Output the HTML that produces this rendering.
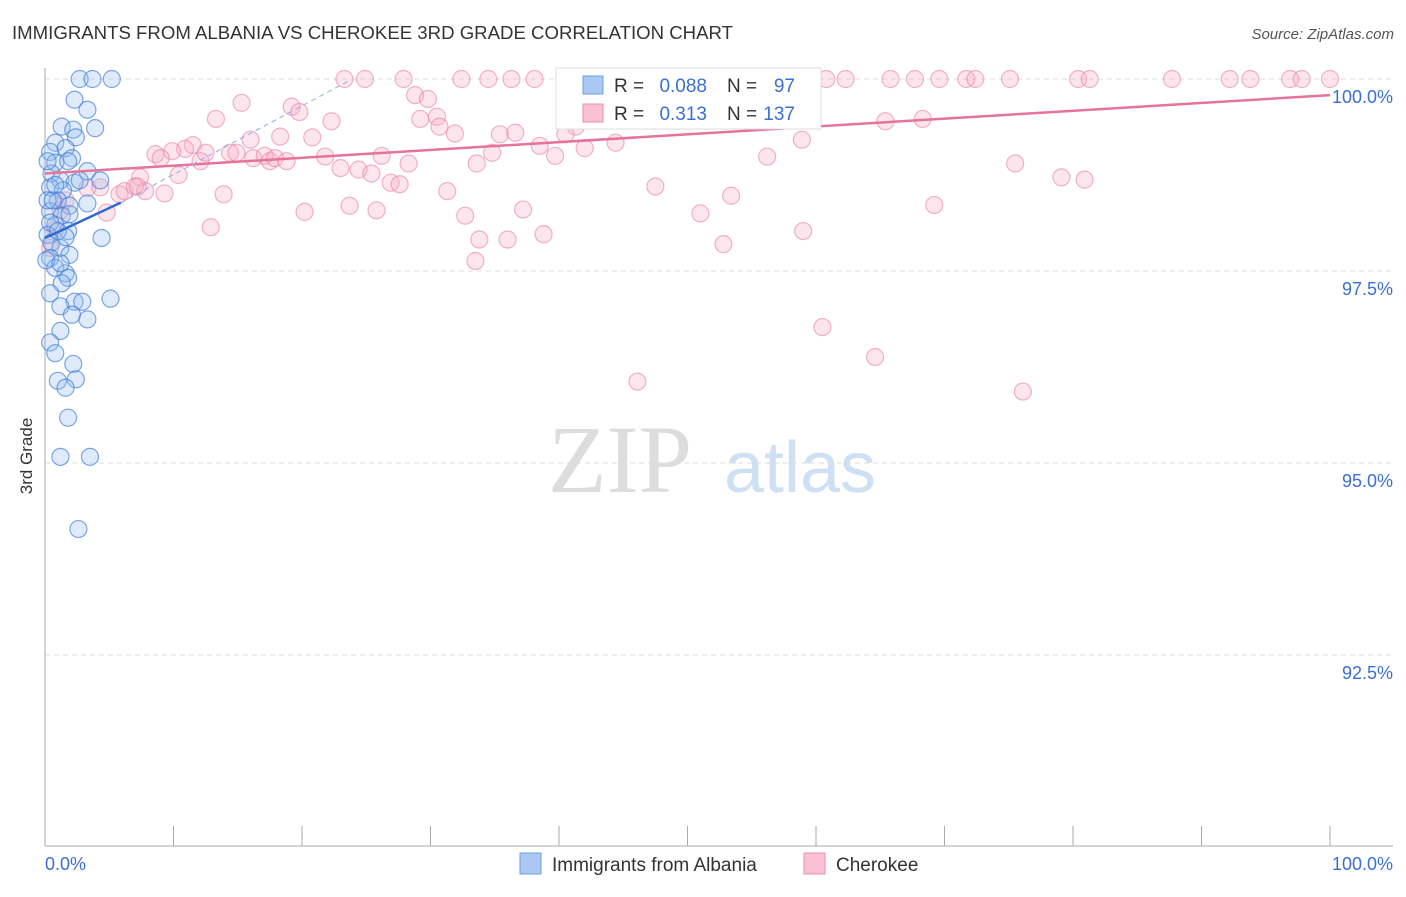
<!DOCTYPE html>
<html><head><meta charset="utf-8"><style>
body{margin:0;background:#fff;font-family:"Liberation Sans",sans-serif}
</style></head><body>
<svg id="c" width="1406" height="892" xmlns="http://www.w3.org/2000/svg" font-family="Liberation Sans, sans-serif">
<text x="12" y="39" font-size="18" fill="#333" textLength="721" lengthAdjust="spacingAndGlyphs">IMMIGRANTS FROM ALBANIA VS CHEROKEE 3RD GRADE CORRELATION CHART</text>
<text x="1394" y="39" font-size="15" fill="#555" font-style="italic" text-anchor="end">Source: ZipAtlas.com</text>
<text x="32" y="456" font-size="17" fill="#333" transform="rotate(-90 32 456)" text-anchor="middle">3rd Grade</text>
<text x="620" y="492" font-size="96" fill="#ddd" font-family="Liberation Serif, serif" text-anchor="middle">ZIP</text>
<text x="800" y="492" font-size="72" fill="#cfe0f5" text-anchor="middle">atlas</text>
<g id="grid"></g><g id="axes"></g><g id="pts"></g><g id="trend"></g>
<g>
<rect x="556" y="68" width="265" height="61" fill="#fff" stroke="#ddd"/>
<rect x="583" y="76" width="20" height="18" fill="#aac8f2" stroke="#6f9fe0"/>
<text x="614" y="92" font-size="19" fill="#333">R =</text>
<text x="707" y="92" font-size="19" fill="#3b6fd4" text-anchor="end">0.088</text>
<text x="727" y="92" font-size="19" fill="#333">N =</text>
<text x="795" y="92" font-size="19" fill="#3b6fd4" text-anchor="end">97</text>
<rect x="583" y="104" width="20" height="18" fill="#f9c1d3" stroke="#eb8fae"/>
<text x="614" y="120" font-size="19" fill="#333">R =</text>
<text x="707" y="120" font-size="19" fill="#3b6fd4" text-anchor="end">0.313</text>
<text x="727" y="120" font-size="19" fill="#333">N =</text>
<text x="795" y="120" font-size="19" fill="#3b6fd4" text-anchor="end">137</text>
</g>
<g>
<rect x="520" y="853" width="21" height="21" fill="#aac8f2" stroke="#6f9fe0"/>
<text x="552" y="871" font-size="19" fill="#333">Immigrants from Albania</text>
<rect x="804" y="853" width="21" height="21" fill="#f9c1d3" stroke="#eb8fae"/>
<text x="836" y="871" font-size="19" fill="#333">Cherokee</text>
</g>
</svg>
<script>
const yTicks=[100,97.5,95,92.5];
const yTickLabels=["100.0%","97.5%","95.0%","92.5%"];
const blueX=[2.7,3.7,5.2,2.3,3.3,1.3,2.2,3.9,2.4,0.8,1.6,0.4,2.1,0.8,1.8,3.3,0.5,1.2,2.3,0.4,1.4,1,1.9,3.3,0.4,1.3,1.9,0.8,1.8,0.2,0.5,1.2,1.9,0.4,0.8,1.6,1.8,1.3,0.4,2.3,2.9,5.1,1.2,2.1,3.3,1.2,0.4,0.8,2.2,1,2.4,1.6,1.8,1.2,3.5,2.6,4.4,2.7,0.2,0.6,0.1,0.4,1,1.6,1.2,4.3,0.8,0.2];
const blueY=[100,100,100,99.73,99.6,99.38,99.34,99.36,99.24,99.17,99.1,99.05,98.97,98.91,98.93,98.8,98.77,98.68,98.65,98.59,98.55,98.42,98.35,98.38,98.28,98.22,98.24,98.1,98.02,97.97,97.87,97.8,97.71,97.67,97.54,97.47,97.41,97.34,97.21,97.1,97.1,97.14,97.04,96.93,96.87,96.72,96.57,96.43,96.29,96.07,96.09,95.98,95.59,95.08,95.08,94.14,97.93,98.68,98.42,98.42,97.64,98.13,98.02,97.94,97.6,98.68,98.62,98.93];
const pinkX=[23.3,24.9,27.9,32.4,34.5,36.3,38.1,43.4,45.6,50.2,52.5,58.8,60.8,62.3,65.8,67.7,69.6,71.7,72.4,75.1,80.4,81.3,87.7,92.2,93.8,96.9,97.8,100,15.3,19.2,19.8,13.3,20.8,22.3,28.8,29.8,29.2,30.5,30.7,31.9,35.4,36.6,41.3,44.4,40.5,11.5,16,18.3,14.4,10.9,9.9,8.6,9,12.1,12.5,14.9,16.2,17.1,17.5,17.9,18.8,21.8,23,24.4,25.4,26.2,26.9,27.6,28.3,33.6,34.8,38.5,39.7,42,56.2,58.9,65.4,68.3,75.5,79.1,80.9,7.4,10.4,3.3,4.3,5.8,6.2,7,7.8,9.3,13.9,7.2,4.8,20.2,23.7,25.8,31.3,32.7,37.2,47.5,51,53.4,69.2,12.9,33.8,36,38.8,33.5,52.8,59,60.5,64.6,46.1,76.1,1.2,0.8,0.4,1.6];
const pinkY=[100,100,100,100,100,100,100,100,100,100,100,100,100,100,100,100,100,100,100,100,100,100,100,100,100,100,100,100,99.69,99.64,99.57,99.48,99.24,99.45,99.79,99.74,99.48,99.51,99.38,99.29,99.28,99.3,99.38,99.17,99.28,99.14,99.21,99.25,99.04,99.09,99.06,99.02,98.97,98.93,99.04,99.04,98.97,99,98.93,98.97,98.93,98.99,98.84,98.82,98.77,99.0,98.65,98.63,98.9,98.9,99.04,99.13,99.0,99.1,98.99,99.21,99.45,99.48,98.9,98.72,98.69,98.72,98.75,98.58,98.59,98.5,98.54,98.6,98.54,98.51,98.5,98.6,98.26,98.27,98.35,98.29,98.54,98.22,98.3,98.6,98.25,98.48,98.36,98.07,97.91,97.91,97.98,97.63,97.85,98.02,96.77,96.38,96.06,95.93,98.29,98.04,97.8,98.42];
const blueTrend=[[0,97.93],[5.9,98.39]];
const blueDash=[[5.9,98.39],[23.8,99.99]];
const pinkTrend=[[0,98.77],[100,99.79]];
const NS="http://www.w3.org/2000/svg";
const X0=45,X1=1330,Y100=79,PX25=192;
const sx=v=>X0+(X1-X0)*v/100;
const sy=v=>Y100+(100-v)/2.5*PX25;
function mk(tag,attrs,parent){const e=document.createElementNS(NS,tag);for(const k in attrs)e.setAttribute(k,attrs[k]);parent.appendChild(e);return e;}
const grid=document.getElementById('grid'),axes=document.getElementById('axes'),pts=document.getElementById('pts'),trend=document.getElementById('trend');
yTicks.forEach((t,i)=>{
 const l=mk('line',{x1:45,x2:1393,y1:sy(t),y2:sy(t),stroke:'#ddd','stroke-dasharray':'5,4'},grid);
 
 
 const tx=mk('text',{x:1393,y:sy(t)+24,'font-size':18,fill:'#3b6fd4','text-anchor':'end'},axes);
 tx.textContent=yTickLabels[i];
 
 
});
const ax=mk('line',{x1:45,x2:45,y1:68,y2:846,stroke:'#aaa'},axes);


const bx=mk('line',{x1:45,x2:1393,y1:846,y2:846,stroke:'#aaa'},axes);


for(let i=0;i<=10;i++){const x=45+i*128.5;const t=mk('line',{x1:x,x2:x,y1:826,y2:846,stroke:'#aaa'},axes);
 
 }
[["0.0%",45,"start"],["100.0%",1393,"end"]].forEach(a=>{const t=mk('text',{x:a[1],y:870,'font-size':18,fill:'#3b6fd4','text-anchor':a[2]},axes);t.textContent=a[0];
 
 });
pinkX.forEach((v,i)=>{const c=mk('circle',{cx:sx(v),cy:sy(pinkY[i]),r:8.5,fill:'rgba(246,170,195,0.3)',stroke:'rgba(232,130,165,0.6)','stroke-width':1.2},pts);
 
 });
blueX.forEach((v,i)=>{const c=mk('circle',{cx:sx(v),cy:sy(blueY[i]),r:8.5,fill:'rgba(150,190,240,0.3)',stroke:'rgba(60,120,215,0.65)','stroke-width':1.2},pts);
 
 });
function ln(p,st,w,dash,name){const l=mk('line',{x1:sx(p[0][0]),y1:sy(p[0][1]),x2:sx(p[1][0]),y2:sy(p[1][1]),stroke:st,'stroke-width':w},trend);if(dash)l.setAttribute('stroke-dasharray',dash);
 
 }
ln(pinkTrend,'#e5739a',2.5,null,'cherokee-trendline');
ln(blueTrend,'#2f6ad4',2.5,null,'albania-trendline');
ln(blueDash,'#9bb8e6',1.2,'5,4','albania-trend-extension');
</script>
</body></html>
